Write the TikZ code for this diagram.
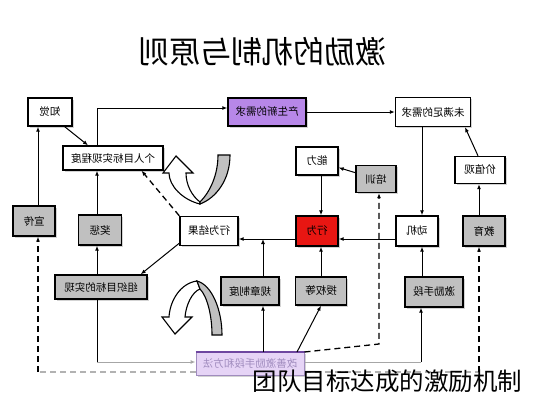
\documentclass[tikz,border=0pt]{standalone}
\usepackage{fontspec}
\setmainfont{Noto Sans CJK SC}
\usepackage{graphicx}
\usetikzlibrary{arrows.meta,shadows}
\definecolor{boxgrey}{RGB}{192,192,192}
\definecolor{needpurple}{RGB}{183,135,232}
\definecolor{actred}{RGB}{232,22,18}
\definecolor{lavfill}{RGB}{230,212,246}
\definecolor{lavline}{RGB}{110,70,160}
\definecolor{lavtext}{RGB}{160,140,190}

\begin{document}
\begin{tikzpicture}[x=1pt,y=-1pt,>={Latex[length=5pt,width=4pt]},line width=1pt]
        \tikzstyle{plain}=[draw=black,line width=1.4pt,fill=white,inner sep=0pt,font=\fontsize{10.5}{12}\selectfont,drop shadow={shadow xshift=1.5pt,shadow yshift=-1.5pt,opacity=0.35}]
        \tikzstyle{grey}=[plain,fill=boxgrey]
        \tikzstyle{dashline}=[dash pattern=on 6pt off 4pt,line width=1.3pt]
        \useasboundingbox (0,0) rectangle (533,400);

        \node (title) at (262,52) {\fontsize{31}{33}\selectfont\reflectbox{激励的机制与原则}};

        \foreach \name/\x/\y/\w/\h/\txt in {zj/50/112/44/28/知觉, gr/113/158/100/24/个人目标实现程度, wm/433/112/75/29/未满足的需求,
                nl/317/161/42/28/能力, jz/480/170/50/27/价值观, jg/209/231/58/29/行为结果, dj/417/231/42/30/动机}
                \node[plain,minimum width=\w pt,minimum height=\h pt] (\name) at (\x,\y) {\reflectbox{\txt}};
        \foreach \name/\x/\y/\w/\h/\txt in {px/376/179/40/27/培训, xc/34/221/42/30/宣传, jc/100/230/43/30/奖惩,
                zz/101/287/92/24/组织目标的实现, gz/250/291/58/28/规章制度, sq/321/291/51/28/授权等,
                jl/434/292/58/30/激励手段, jy/484/231/42/30/教育}
                \node[grey,minimum width=\w pt,minimum height=\h pt] (\name) at (\x,\y) {\reflectbox{\txt}};
        \node[plain,fill=needpurple,minimum width=78pt,minimum height=28pt] (xq) at (267,112) {\reflectbox{产生新的需求}};
        \node[plain,fill=actred,minimum width=42pt,minimum height=30pt] (xw) at (317,231) {\reflectbox{行为}};
        \node[plain,fill=lavfill,draw=lavtext,line width=1pt,text=lavtext,minimum width=108pt,minimum height=23pt] (gs) at (250,364) {\reflectbox{改善激励手段和方法}};
        \draw[lavline,line width=1.6pt] (gs.north west) -- (gs.north east);

        \coordinate (gzup) at (263,239);
        \coordinate (pxbend) at (379,344);
        \coordinate (zzlow) at (97,362);
        \coordinate (jllow) at (421,362);
        \coordinate (xclow) at (38,372);
        \coordinate (jylow) at (479,372);

        \draw[->] (zj.-45) -- ([xshift=-25pt]gr.north);
        \draw[->] ([xshift=-16pt]gr.north) |- ([yshift=4pt]xq.west);
        \draw[->] (xq) -- (wm);
        \draw[->] ([xshift=5pt]dj.north |- wm.south) -- ([xshift=5pt]dj.north);
        \draw[->] ([xshift=-2pt]jz.north) -- ([xshift=32pt]wm.south);
        \draw[->] ([xshift=-5pt]jy.north) -- ([xshift=-1pt]jz.south);
        \draw[->] (px) -- (nl);
        \draw[->] ([xshift=4pt]nl.south) -- ([xshift=4pt]xw.north);
        \draw[->] ([yshift=-8pt]dj.west) -- ([yshift=-8pt]xw.east);
        \draw[->] ([yshift=-8pt]xw.west) -- ([yshift=-8pt]jg.east);
        \draw[->] ([xshift=13pt]gz.north) -- (gzup);
        \draw[->] ([xshift=4pt]xw.south |- sq.north) -- ([xshift=4pt]xw.south);
        \draw[->] ([xshift=5pt]dj.south |- jl.north) -- ([xshift=5pt]dj.south);
        \draw[->] ([yshift=3pt]jg.south west) -- ([xshift=-7pt]zz.north east);
        \draw[->] ([xshift=-4pt]zz.north) -- ([xshift=-3pt]jc.south);
        \draw[->] ([xshift=-3pt]jc.north) -- ([xshift=-16pt]gr.south);
        \draw[->] ([xshift=4pt]xc.north) -- ([xshift=-12pt]zj.south);
        \draw[->,dashline] (jg.north west) -- (gr.-24);
        \draw[->] ([xshift=13pt]gs.north) -- ([xshift=13pt]gz.south);
        \draw[->] ([xshift=47pt]gs.north) -- (sq.south);
        \draw[->,dashline] (gs.north east) -- (pxbend) -- ([xshift=3pt]px.south);
        \draw ([xshift=-4pt]zz.south) -- (zzlow);
        \draw[->,gray!70] (zzlow) -- ([yshift=2pt]gs.west);
        \draw[gray!70] ([yshift=2pt]gs.east) -- (jllow);
        \draw[->] (jllow) -- ([xshift=-13pt]jl.south);
        \draw[dashline,gray!60] ([yshift=-8pt]gs.west) -- (xclow);
        \draw[dashline,gray!60] ([yshift=-8pt]gs.east) -- (jylow);
        \draw[->,dashline] (xclow) -- ([xshift=4pt]xc.south);
        \draw[->,dashline] (jylow) -- ([xshift=-5pt]jy.south);

        \draw[fill=white,line width=1.1pt] (200,204) .. controls (183,200) and (169,186) .. (169,173) -- (163,173) -- (176,156)
                -- (193,173) -- (186,173) .. controls (186,185) and (192,196) .. (200,202) -- cycle;
        \draw[fill=boxgrey,line width=1.1pt] (200,204) .. controls (216,198) and (230,180) .. (230,155) -- (218,155)
                .. controls (218,175) and (210,192) .. (200,202) -- cycle;
        \draw[fill=white,line width=1.1pt] (197,281) .. controls (181,283) and (170,300) .. (169,317) -- (162,317) -- (175,334)
                -- (192,317) -- (185,317) .. controls (186,305) and (192,292) .. (200,289) -- cycle;
        \draw[fill=boxgrey,line width=1.1pt] (197,281) .. controls (212,285) and (222,310) .. (222,335) -- (212,335)
                .. controls (212,315) and (207,296) .. (200,289) -- cycle;

        \node[anchor=west,inner sep=0pt] (caption) at (252,381) {\fontsize{24.5}{27}\selectfont 团队目标达成的激励机制};
\end{tikzpicture}
\end{document}
